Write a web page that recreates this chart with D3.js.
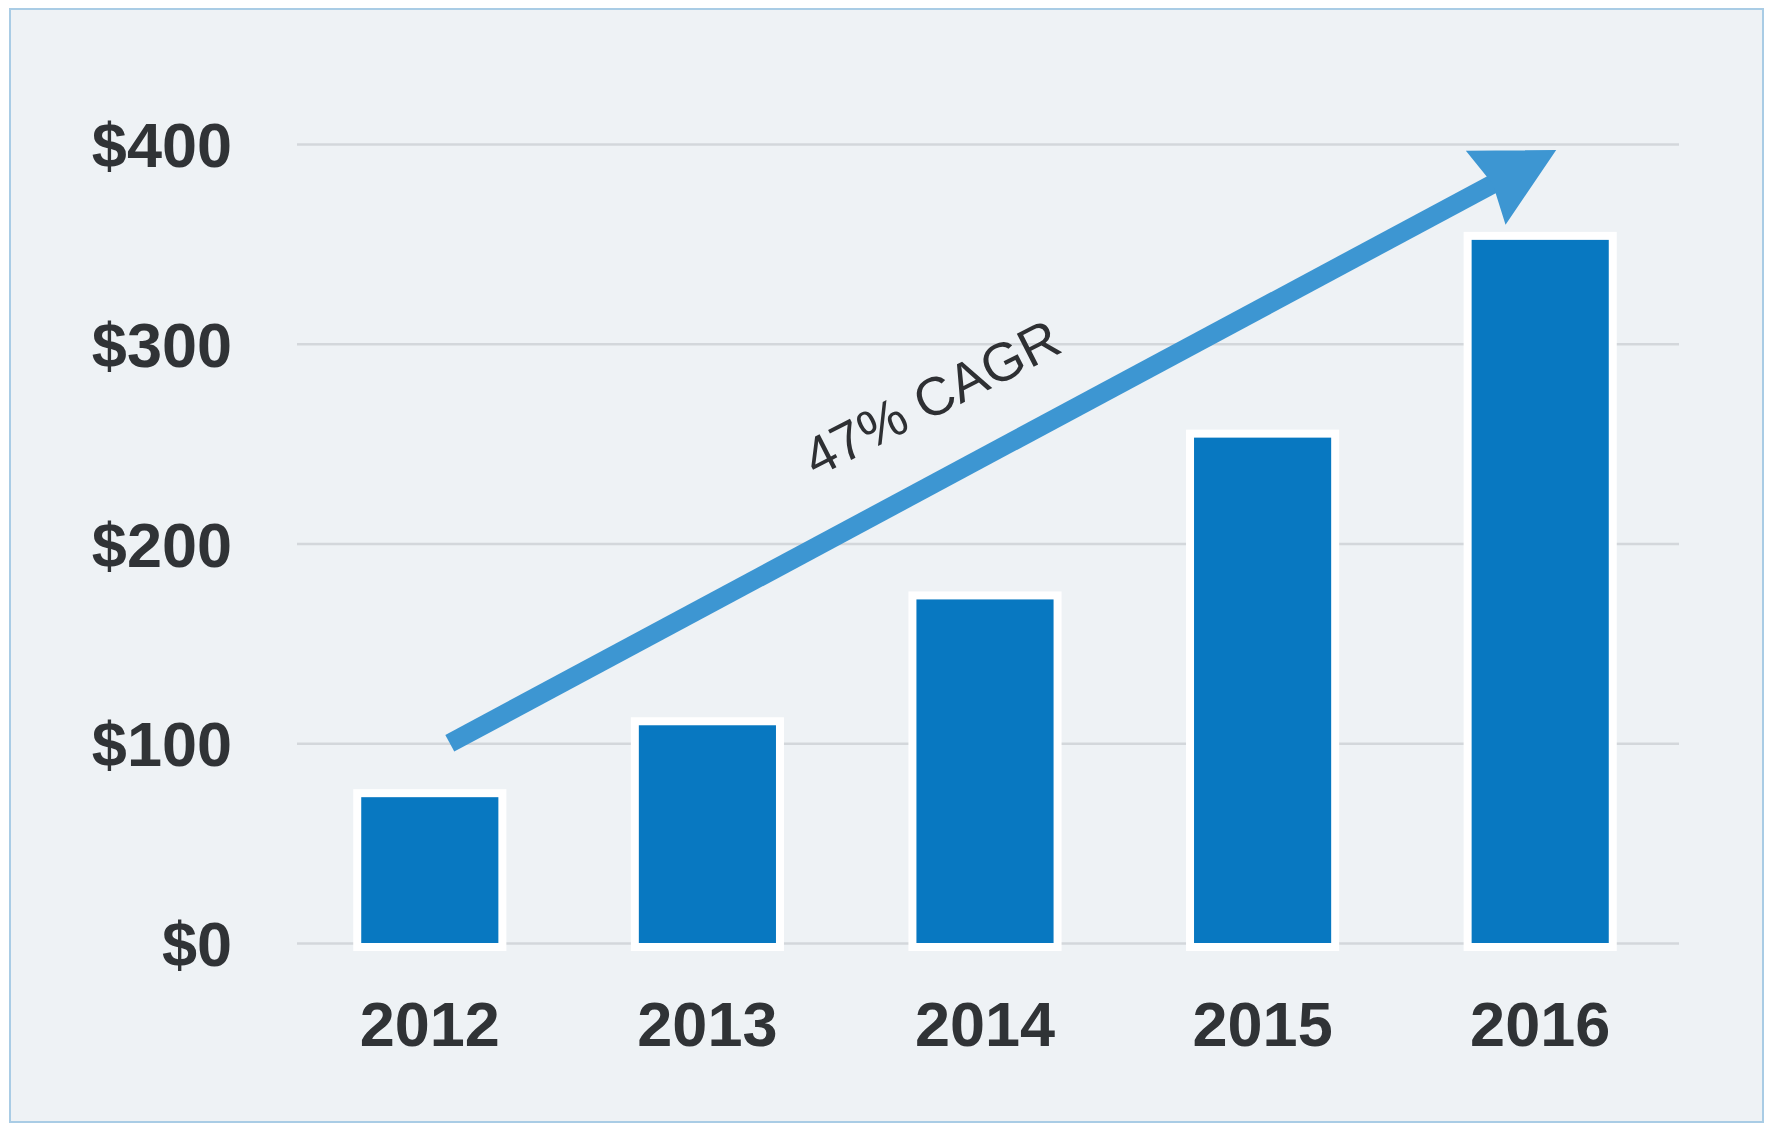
<!DOCTYPE html>
<html>
<head>
<meta charset="utf-8">
<script src="https://cdn.jsdelivr.net/npm/d3@7"></script>
<style>
  html, body { margin: 0; padding: 0; background: #ffffff; }
  svg { display: block; }
</style>
</head>
<body>
<svg id="chart" width="1765" height="1126"></svg>
<script>
// Revenue by year ($)
const years = ["2012", "2013", "2014", "2015", "2016"];
const revenue = [73, 109, 172, 253, 352];
const yTicks = [0, 100, 200, 300, 400];
const yTickLabels = ["$0", "$100", "$200", "$300", "$400"];

// Growth arrow annotation: from 2012 at $100 to 2016 at $397
const arrowYears = ["2012", "2016"];
const arrowValues = [100, 397];
const arrowLabel = "47% CAGR";

const W = 1765, H = 1126;
const svg = d3.select("#chart");

// panel background with thin blue frame
svg.append("rect")
  .attr("x", 10).attr("y", 9)
  .attr("width", 1753).attr("height", 1113)
  .attr("fill", "#eef2f5")
  .attr("stroke", "#a9cce5")
  .attr("stroke-width", 2);

const x = d3.scaleBand()
  .domain(years)
  .range([291, 1679])
  .paddingInner(0.506)
  .paddingOuter(0.253);

const y = d3.scaleLinear()
  .domain([0, 400])
  .range([943, 144]);

// horizontal gridlines + y labels via axis
const yAxis = d3.axisLeft(y)
  .tickValues(yTicks)
  .tickSize(-(1679 - 297))
  .tickPadding(65)
  .tickFormat((d, i) => yTickLabels[i]);

const gy = svg.append("g")
  .attr("transform", "translate(297,0)")
  .call(yAxis);
gy.select(".domain").remove();
gy.selectAll(".tick line")
  .attr("stroke", "#d3d7db")
  .attr("stroke-width", 2.5);
gy.selectAll(".tick text")
  .attr("fill", "#303336")
  .attr("font-family", "'Liberation Sans', Arial, sans-serif")
  .attr("font-weight", "bold")
  .attr("font-size", 63)
  .attr("dy", "0.36em");

// x labels via axis
const xAxis = d3.axisBottom(x).tickSize(0).tickPadding(0);
const gx = svg.append("g")
  .attr("transform", "translate(0,1046)")
  .call(xAxis);
gx.select(".domain").remove();
gx.selectAll(".tick text")
  .attr("fill", "#303336")
  .attr("font-family", "'Liberation Sans', Arial, sans-serif")
  .attr("font-weight", "bold")
  .attr("font-size", 63)
  .attr("dy", 0);

// bars with white halo
const halo = 8;
const bars = svg.append("g");
bars.selectAll("rect.halo")
  .data(years)
  .join("rect")
  .attr("class", "halo")
  .attr("x", d => x(d) - halo)
  .attr("y", (d, i) => y(revenue[i]) - halo)
  .attr("width", x.bandwidth() + 2 * halo)
  .attr("height", (d, i) => y(0) - y(revenue[i]) + 2 * halo)
  .attr("fill", "#ffffff");
bars.selectAll("rect.bar")
  .data(years)
  .join("rect")
  .attr("class", "bar")
  .attr("x", d => x(d))
  .attr("y", (d, i) => y(revenue[i]))
  .attr("width", x.bandwidth())
  .attr("height", (d, i) => y(0) - y(revenue[i]))
  .attr("fill", "#0878c1");

// growth arrow
const ax0 = x(arrowYears[0]) + x.bandwidth() / 2 + 20;
const ay0 = y(arrowValues[0]);
const ax1 = x(arrowYears[1]) + x.bandwidth() / 2 + 16;
const ay1 = y(arrowValues[1]);
const len = Math.hypot(ax1 - ax0, ay1 - ay0);
const ux = (ax1 - ax0) / len, uy = (ay1 - ay0) / len;
const nx = -uy, ny = ux;
const headLen = 80, headHalf = 42;
const bx = ax1 - ux * headLen, by = ay1 - uy * headLen;
const arrowColor = "#3d96d2";

svg.append("line")
  .attr("x1", ax0).attr("y1", ay0)
  .attr("x2", bx + ux * 10).attr("y2", by + uy * 10)
  .attr("stroke", arrowColor)
  .attr("stroke-width", 19);

svg.append("path")
  .attr("d", d3.line()([
    [ax1, ay1],
    [bx + nx * headHalf, by + ny * headHalf],
    [bx + ux * 8, by + uy * 8],
    [bx - nx * headHalf, by - ny * headHalf]
  ]) + "Z")
  .attr("fill", arrowColor);

// CAGR label along the arrow, above the shaft
const t = 0.468, off = 58;
const lx = ax0 + (ax1 - ax0) * t + uy * off;
const ly = ay0 + (ay1 - ay0) * t - ux * off;
svg.append("text")
  .attr("x", lx).attr("y", ly)
  .attr("transform", `rotate(-27,${lx},${ly})`)
  .attr("text-anchor", "middle")
  .attr("fill", "#2e3033")
  .attr("font-family", "'Liberation Sans', Arial, sans-serif")
  .attr("font-size", 54)
  .text(arrowLabel);
</script>
</body>
</html>
